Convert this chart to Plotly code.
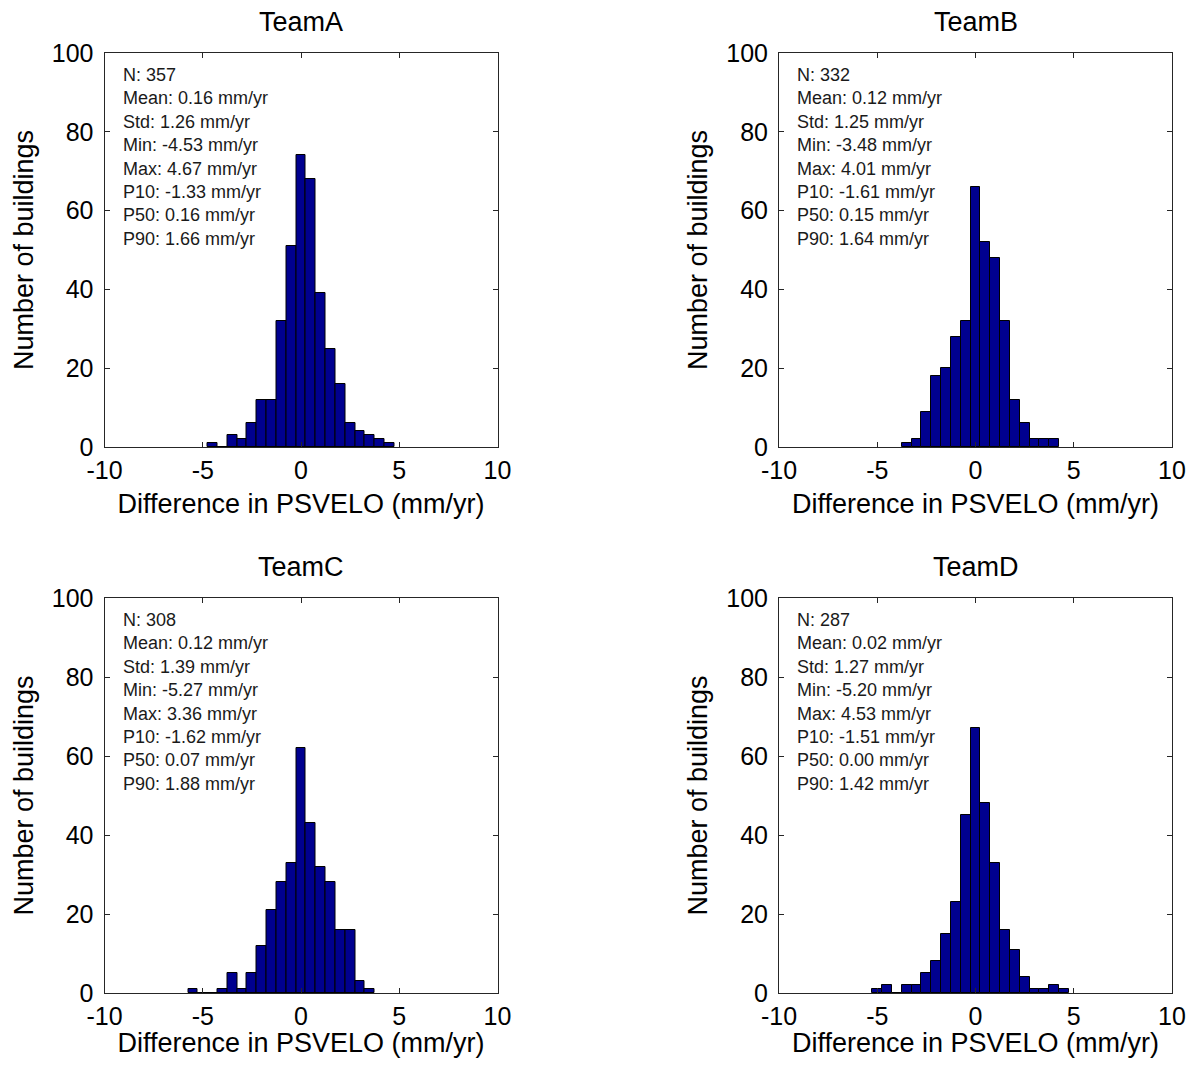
import plotly.graph_objects as go

# ---- data ----
teams = ["TeamA", "TeamB", "TeamC", "TeamD"]
bin_width = 0.5
first_center = {"TeamA": -4.5, "TeamB": -3.5, "TeamC": -5.5, "TeamD": -5.0}
counts_a = [1, 0, 3, 2, 6, 12, 12, 32, 51, 74, 68, 39, 25, 16, 6, 4, 3, 2, 1]
counts_b = [1, 2, 9, 18, 20, 28, 32, 66, 52, 48, 32, 12, 6, 2, 2, 2]
counts_c = [1, 0, 0, 1, 5, 1, 5, 12, 21, 28, 33, 62, 43, 32, 28, 16, 16, 3, 1]
counts_d = [1, 2, 0, 2, 2, 5, 8, 15, 23, 45, 67, 48, 33, 16, 11, 4, 1, 1, 2, 1]
counts = {"TeamA": counts_a, "TeamB": counts_b, "TeamC": counts_c, "TeamD": counts_d}

stats = {
    "TeamA": ["N: 357", "Mean: 0.16 mm/yr", "Std: 1.26 mm/yr", "Min: -4.53 mm/yr",
              "Max: 4.67 mm/yr", "P10: -1.33 mm/yr", "P50: 0.16 mm/yr", "P90: 1.66 mm/yr"],
    "TeamB": ["N: 332", "Mean: 0.12 mm/yr", "Std: 1.25 mm/yr", "Min: -3.48 mm/yr",
              "Max: 4.01 mm/yr", "P10: -1.61 mm/yr", "P50: 0.15 mm/yr", "P90: 1.64 mm/yr"],
    "TeamC": ["N: 308", "Mean: 0.12 mm/yr", "Std: 1.39 mm/yr", "Min: -5.27 mm/yr",
              "Max: 3.36 mm/yr", "P10: -1.62 mm/yr", "P50: 0.07 mm/yr", "P90: 1.88 mm/yr"],
    "TeamD": ["N: 287", "Mean: 0.02 mm/yr", "Std: 1.27 mm/yr", "Min: -5.20 mm/yr",
              "Max: 4.53 mm/yr", "P10: -1.51 mm/yr", "P50: 0.00 mm/yr", "P90: 1.42 mm/yr"],
}

x_ticks = [-10, -5, 0, 5, 10]
y_ticks = [0, 20, 40, 60, 80, 100]
x_label = "Difference in PSVELO (mm/yr)"
y_label = "Number of buildings"

# ---- layout geometry (page body has an 8px margin) ----
OFF = 8
W, H = 1195 - 2 * OFF, 1066 - 2 * OFF
def fx(p):
    return (p - OFF) / W
def fy(p):
    return 1 - (p - OFF) / H
xdoms = [(fx(104.5), fx(497.5)), (fx(779), fx(1172))]
ydoms = [(fy(447), fy(53)), (fy(993), fy(598))]

FONT = "Arial, Liberation Sans, sans-serif"
BAR_COLOR = "#00008F"
AX_COLOR = "#262626"

fig = go.Figure()
layout = dict(
    width=W, height=H,
    margin=dict(l=0, r=0, t=0, b=0, autoexpand=False),
    paper_bgcolor="white", plot_bgcolor="white",
    showlegend=False,
    font=dict(family=FONT, color="black", size=24),
    bargap=0,
)
annotations = []

for i, team in enumerate(teams):
    row, col = divmod(i, 2)
    n = i + 1
    xa = "x" if n == 1 else f"x{n}"
    ya = "y" if n == 1 else f"y{n}"
    c0 = first_center[team]
    centers = [c0 + k * bin_width for k in range(len(counts[team]))]
    fig.add_trace(go.Bar(
        x=centers, y=counts[team], width=bin_width,
        marker=dict(color=BAR_COLOR, line=dict(color="black", width=1)),
        xaxis=xa, yaxis=ya, hoverinfo="x+y",
    ))
    axkey_x = "xaxis" if n == 1 else f"xaxis{n}"
    axkey_y = "yaxis" if n == 1 else f"yaxis{n}"
    layout[axkey_x] = dict(
        domain=list(xdoms[col]), anchor=ya, range=[-10, 10], automargin=False,
        tickmode="array", tickvals=x_ticks, ticktext=[str(v) for v in x_ticks],
        ticks="inside", ticklen=5, tickcolor=AX_COLOR, ticklabelstandoff=1,
        showline=True, linecolor=AX_COLOR, linewidth=1, mirror="ticks",
        showgrid=False, zeroline=False,
        tickfont=dict(size=25, family=FONT, color="black"),
        title=dict(text=x_label, font=dict(size=27, family=FONT, color="black"), standoff=11),
    )
    layout[axkey_y] = dict(
        domain=list(ydoms[row]), anchor=xa, range=[0, 100], automargin=False,
        tickmode="array", tickvals=y_ticks, ticktext=[str(v) for v in y_ticks],
        ticks="inside", ticklen=5, tickcolor=AX_COLOR, ticklabelstandoff=5,
        showline=True, linecolor=AX_COLOR, linewidth=1, mirror="ticks",
        showgrid=False, zeroline=False,
        tickfont=dict(size=25, family=FONT, color="black"),
        title=dict(text=y_label, font=dict(size=27, family=FONT, color="black"), standoff=10),
    )
    # panel title
    annotations.append(dict(
        text=team, xref=f"{xa} domain", yref=f"{ya} domain", x=0.5, y=1,
        xanchor="center", yanchor="bottom", yshift=14, showarrow=False,
        font=dict(size=27, family=FONT, color="black"),
    ))
    # stats text
    annotations.append(dict(
        text="<br>".join(stats[team]), xref=f"{xa} domain", yref=f"{ya} domain",
        x=0, y=1, xanchor="left", yanchor="top", xshift=16, yshift=-10,
        align="left", showarrow=False,
        font=dict(size=18, family=FONT, color="#1a1a1a"),
    ))

layout["annotations"] = annotations
fig.update_layout(**layout)
fig.write_html("out.html")
